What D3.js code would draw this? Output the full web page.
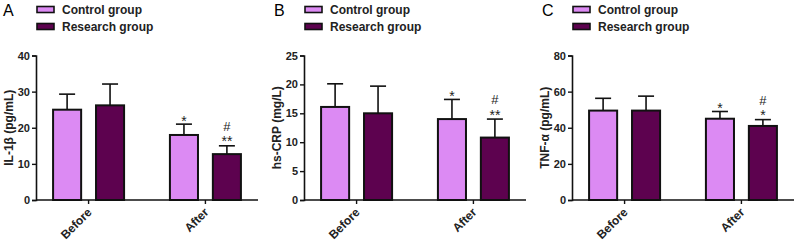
<!DOCTYPE html>
<html>
<head>
<meta charset="utf-8">
<script src="https://cdn.jsdelivr.net/npm/d3@7"></script>
<style>
  body { margin: 0; background: #fff; }
  text { font-family: Arial, "Liberation Sans", sans-serif; }
</style>
</head>
<body>
<div id="chart-area"></div>
<script>
const timepoints = ["Before", "After"];
const groups = ["Control group", "Research group"];
const colors = ["#dc8af3", "#5d024f"];

// mean and upper error (SD) for each panel, per timepoint
const il1bControl = [25, 18];
const il1bControlSD = [4.3, 3];
const il1bResearch = [26.2, 12.7];
const il1bResearchSD = [5.9, 2.3];

const crpControl = [16.1, 14];
const crpControlSD = [4, 3.4];
const crpResearch = [15, 10.8];
const crpResearchSD = [4.7, 3.2];

const tnfControl = [49.5, 45];
const tnfControlSD = [6.8, 4];
const tnfResearch = [49.5, 41];
const tnfResearchSD = [8, 3.5];

// significance marks above the "After" bars
const marksA = [["*"], ["**", "#"]];
const marksB = [["*"], ["**", "#"]];
const marksC = [["*"], ["*", "#"]];

const panels = [
  {letter: "A", left: 36, title: "IL-1β (pg/mL)", max: 40, ticks: [0, 10, 20, 30, 40],
   control: il1bControl, controlSD: il1bControlSD, research: il1bResearch, researchSD: il1bResearchSD, marks: marksA},
  {letter: "B", left: 304, title: "hs-CRP (mg/L)", max: 25, ticks: [0, 5, 10, 15, 20, 25],
   control: crpControl, controlSD: crpControlSD, research: crpResearch, researchSD: crpResearchSD, marks: marksB},
  {letter: "C", left: 572, title: "TNF-α (pg/mL)", max: 80, ticks: [0, 20, 40, 60, 80],
   control: tnfControl, controlSD: tnfControlSD, research: tnfResearch, researchSD: tnfResearchSD, marks: marksC}
];

const plotTop = 55.5, plotBottom = 200, plotWidth = 222;

const svg = d3.select("#chart-area").append("svg")
    .attr("width", 796)
    .attr("height", 241);

panels.forEach((p) => {
  const g = svg.append("g").attr("transform", "translate(" + p.left + ",0)");

  const x0 = d3.scalePoint().domain(timepoints).range([0, plotWidth]).padding(0.45);
  const x1 = d3.scaleBand().domain(groups).range([-36.5, 36.5]).paddingInner(0.3);
  const y = d3.scaleLinear().domain([0, p.max]).range([plotBottom, plotTop]);

  // panel letter
  g.append("text")
    .attr("x", p.letter == "A" ? -33 : -30)
    .attr("y", 16)
    .attr("font-size", 16)
    .text(p.letter);

  // legend
  groups.forEach((name, i) => {
    g.append("rect")
      .attr("x", 1)
      .attr("y", 6.5 + i * 17)
      .attr("width", 17)
      .attr("height", 6)
      .attr("fill", colors[i])
      .attr("stroke", "#111")
      .attr("stroke-width", 1.6);
    g.append("text")
      .attr("x", 26)
      .attr("y", 14 + i * 17)
      .attr("font-size", 12)
      .attr("font-weight", "bold")
      .attr("fill", "#222")
      .text(name);
  });

  // bars
  const rows = [];
  timepoints.forEach((t, i) => {
    rows.push({t: t, grp: groups[0], v: p.control[i], sd: p.controlSD[i], c: 0, i: i});
    rows.push({t: t, grp: groups[1], v: p.research[i], sd: p.researchSD[i], c: 1, i: i});
  });

  const cx = (d) => x0(d.t) + x1(d.grp) + x1.bandwidth() / 2;

  // error bars (upper only)
  g.selectAll(".err").data(rows).enter().append("line")
    .attr("x1", cx).attr("x2", cx)
    .attr("y1", (d) => y(d.v)).attr("y2", (d) => y(d.v + d.sd))
    .attr("stroke", "#111").attr("stroke-width", 1.6);
  g.selectAll(".cap").data(rows).enter().append("line")
    .attr("x1", (d) => cx(d) - 8).attr("x2", (d) => cx(d) + 8)
    .attr("y1", (d) => y(d.v + d.sd)).attr("y2", (d) => y(d.v + d.sd))
    .attr("stroke", "#111").attr("stroke-width", 1.6);

  g.selectAll(".bar").data(rows).enter().append("rect")
    .attr("x", (d) => x0(d.t) + x1(d.grp) + 1)
    .attr("y", (d) => y(d.v))
    .attr("width", x1.bandwidth() - 2)
    .attr("height", (d) => plotBottom - y(d.v))
    .attr("fill", (d) => colors[d.c])
    .attr("stroke", "#111")
    .attr("stroke-width", 2);

  // significance marks
  rows.filter((d) => d.i == 1).forEach((d) => {
    const m = p.marks[d.c];
    m.forEach((s, k) => {
      const cap = y(d.v + d.sd);
      g.append("text")
        .attr("x", cx(d))
        .attr("y", s == "#" ? cap - 15 : cap + (m.length == 1 ? 1.5 : 0.5))
        .attr("text-anchor", "middle")
        .attr("font-size", s == "#" ? 13 : 14)
        .attr("fill", "#222")
        .text(s);
    });
  });

  // axes
  const yAxis = g.append("g")
    .call(d3.axisLeft(y).tickValues(p.ticks).tickSize(4).tickPadding(2));
  yAxis.selectAll("text").attr("font-size", 11).attr("font-weight", "bold").attr("fill", "#222");
  yAxis.selectAll("line").attr("stroke", "#111").attr("stroke-width", 1.4);
  yAxis.select(".domain").attr("stroke", "#111").attr("stroke-width", 1.6);

  const xAxis = g.append("g").attr("transform", "translate(0," + plotBottom + ")");
  xAxis.append("line")
    .attr("x1", 0).attr("x2", plotWidth)
    .attr("stroke", "#111").attr("stroke-width", 1.6);
  xAxis.selectAll(".tick").data(timepoints).enter().append("line")
    .attr("x1", (d) => x0(d)).attr("x2", (d) => x0(d))
    .attr("y1", 0).attr("y2", 4)
    .attr("stroke", "#111").attr("stroke-width", 1.4);
  xAxis.selectAll(".lbl").data(timepoints).enter().append("text")
    .attr("text-anchor", "end")
    .attr("transform", (d) => "translate(" + (x0(d) + 1) + ",10) rotate(-45)")
    .attr("dy", "0.35em")
    .attr("font-size", 12)
    .attr("font-weight", "bold")
    .attr("fill", "#222")
    .text((d) => d);

  // y title
  g.append("text")
    .attr("transform", "translate(-23," + ((plotTop + plotBottom) / 2) + ") rotate(-90)")
    .attr("text-anchor", "middle")
    .attr("font-size", 12)
    .attr("font-weight", "bold")
    .attr("fill", "#222")
    .text(p.title);
});
</script>
</body>
</html>
